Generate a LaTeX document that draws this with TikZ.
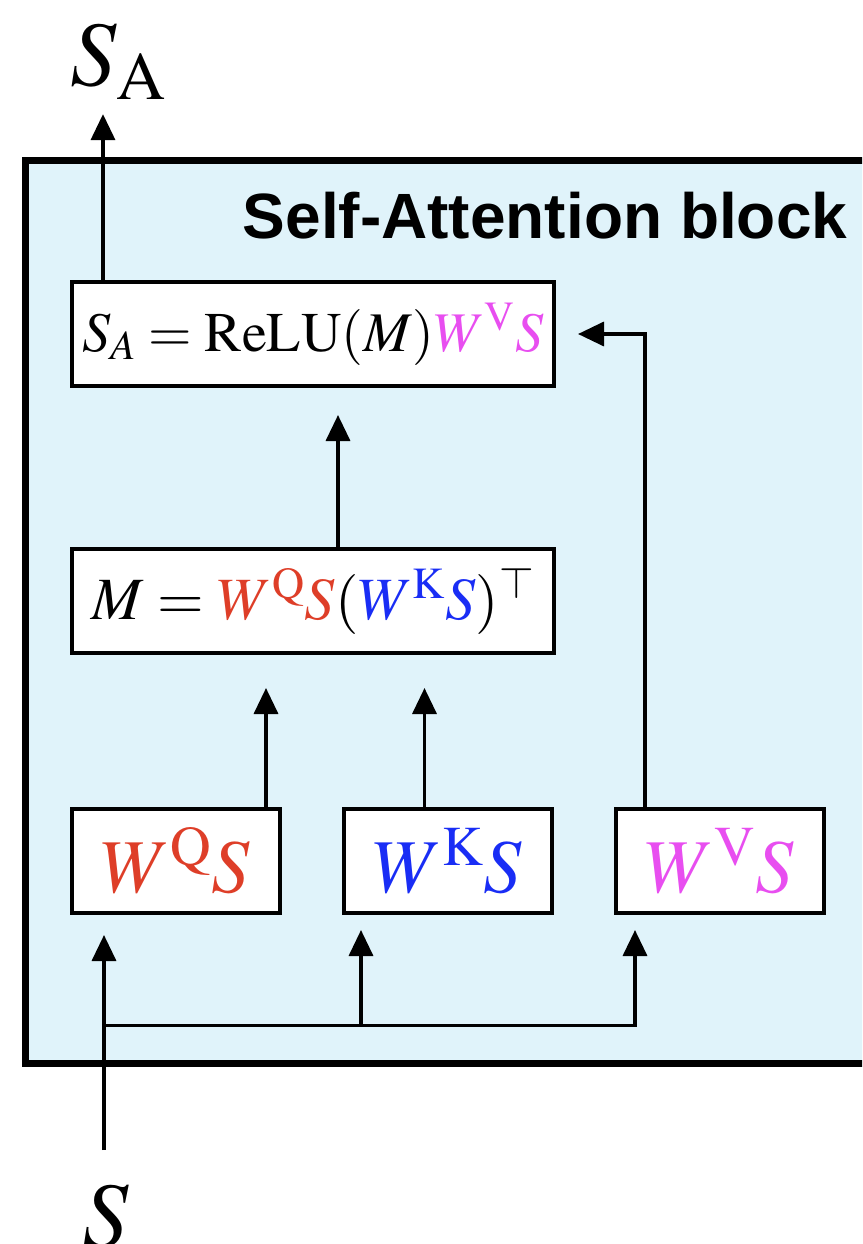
\documentclass[tikz,border=0pt]{standalone}
\usepackage{fix-cm}
\usepackage{amsmath}
\usepackage{mathptmx}
\usepackage{fontspec}
\setmainfont{Liberation Serif}
\newfontfamily\headfont{Liberation Sans}
\usepackage{xcolor}
\usetikzlibrary{arrows.meta,positioning,calc}

\definecolor{qred}{RGB}{222,62,40}
\definecolor{kblue}{RGB}{25,45,245}
\definecolor{vpink}{RGB}{232,78,240}
\definecolor{blockbg}{RGB}{224,243,250}

\begin{document}
\begin{tikzpicture}[
  x=1pt, y=-1pt,
  box/.style={draw, line width=4pt, fill=white, inner sep=0pt},
  wide/.style={box, minimum width=482pt, minimum height=104pt},
  small/.style={box, minimum width=208pt, minimum height=104pt},
  arr/.style={-{Triangle[length=26pt,width=24pt]}, line width=3.5pt},
  lbl/.style={inner sep=0pt, font=\fontsize{92}{110}\selectfont},
  node distance=60pt
]
\useasboundingbox (0,0) rectangle (862,1244);
\clip (0,0) rectangle (862,1244);

% Self-attention block (runs off the right edge)
\draw[line width=7pt, fill=blockbg] (25.5,160.5) rectangle (900,1063);
\node[anchor=base, font=\headfont\bfseries\fontsize{64}{76}\selectfont] (title) at (545,238) {Self-Attention block};

% Output and attention map
\node[wide] (sa) at (313,334) {\fontsize{56}{66}\selectfont $S_A = \mathrm{ReLU}(M)\textcolor{vpink}{W^{\mathrm{V}}S}$};
\node[wide] (m) at (313,601) {\fontsize{60}{72}\selectfont $M = \textcolor{qred}{W^{\mathrm{Q}}S}(\textcolor{kblue}{W^{\mathrm{K}}S})^{\top}$};

% Query, key, value
\node[small] (q) at (176,861) {\fontsize{76}{90}\selectfont $\textcolor{qred}{W^{\mathrm{Q}}S}$};
\node[small, right=of q] (k) {\fontsize{76}{90}\selectfont $\textcolor{kblue}{W^{\mathrm{K}}S}$};
\node[small, right=of k] (v) {\fontsize{76}{90}\selectfont $\textcolor{vpink}{W^{\mathrm{V}}S}$};

% In and out
\node[lbl, anchor=base] (sout) at (118,86) {$S_{\mathrm{A}}$};
\node[lbl, anchor=north] (sin) at (106,1184) {$S$};

\coordinate (saout) at ([xshift=-210pt]sa.north);
\draw[arr, shorten >=14pt] (saout) -- (saout |- sout.south);

\coordinate (mout) at ([xshift=25pt]m.north);
\draw[arr, shorten >=27pt] (mout) -- (mout |- sa.south);

\coordinate (qout) at ([xshift=90pt]q.north);
\draw[arr, shorten >=33pt] (qout) -- (qout |- m.south);
\coordinate (kout) at ([xshift=-23.5pt]k.north);
\draw[arr, shorten >=33pt] (kout) -- (kout |- m.south);
\draw[arr, shorten >=22pt] ([xshift=-75pt]v.north) |- (sa.east);

% Input fan-out
\coordinate (sbot) at ([xshift=-72pt,yshift=34pt]q.south |- sin.north);
\coordinate (fork) at ($(sbot)!0.53!(sbot |- q.south)$);
\draw[arr, shorten >=20pt] (sbot) -- (sbot |- q.south);
\draw[arr, shorten >=15pt] (fork) -| ([xshift=-87pt]k.south);
\draw[arr, shorten >=15pt] (fork) -| ([xshift=-85pt]v.south);

\end{tikzpicture}
\end{document}
